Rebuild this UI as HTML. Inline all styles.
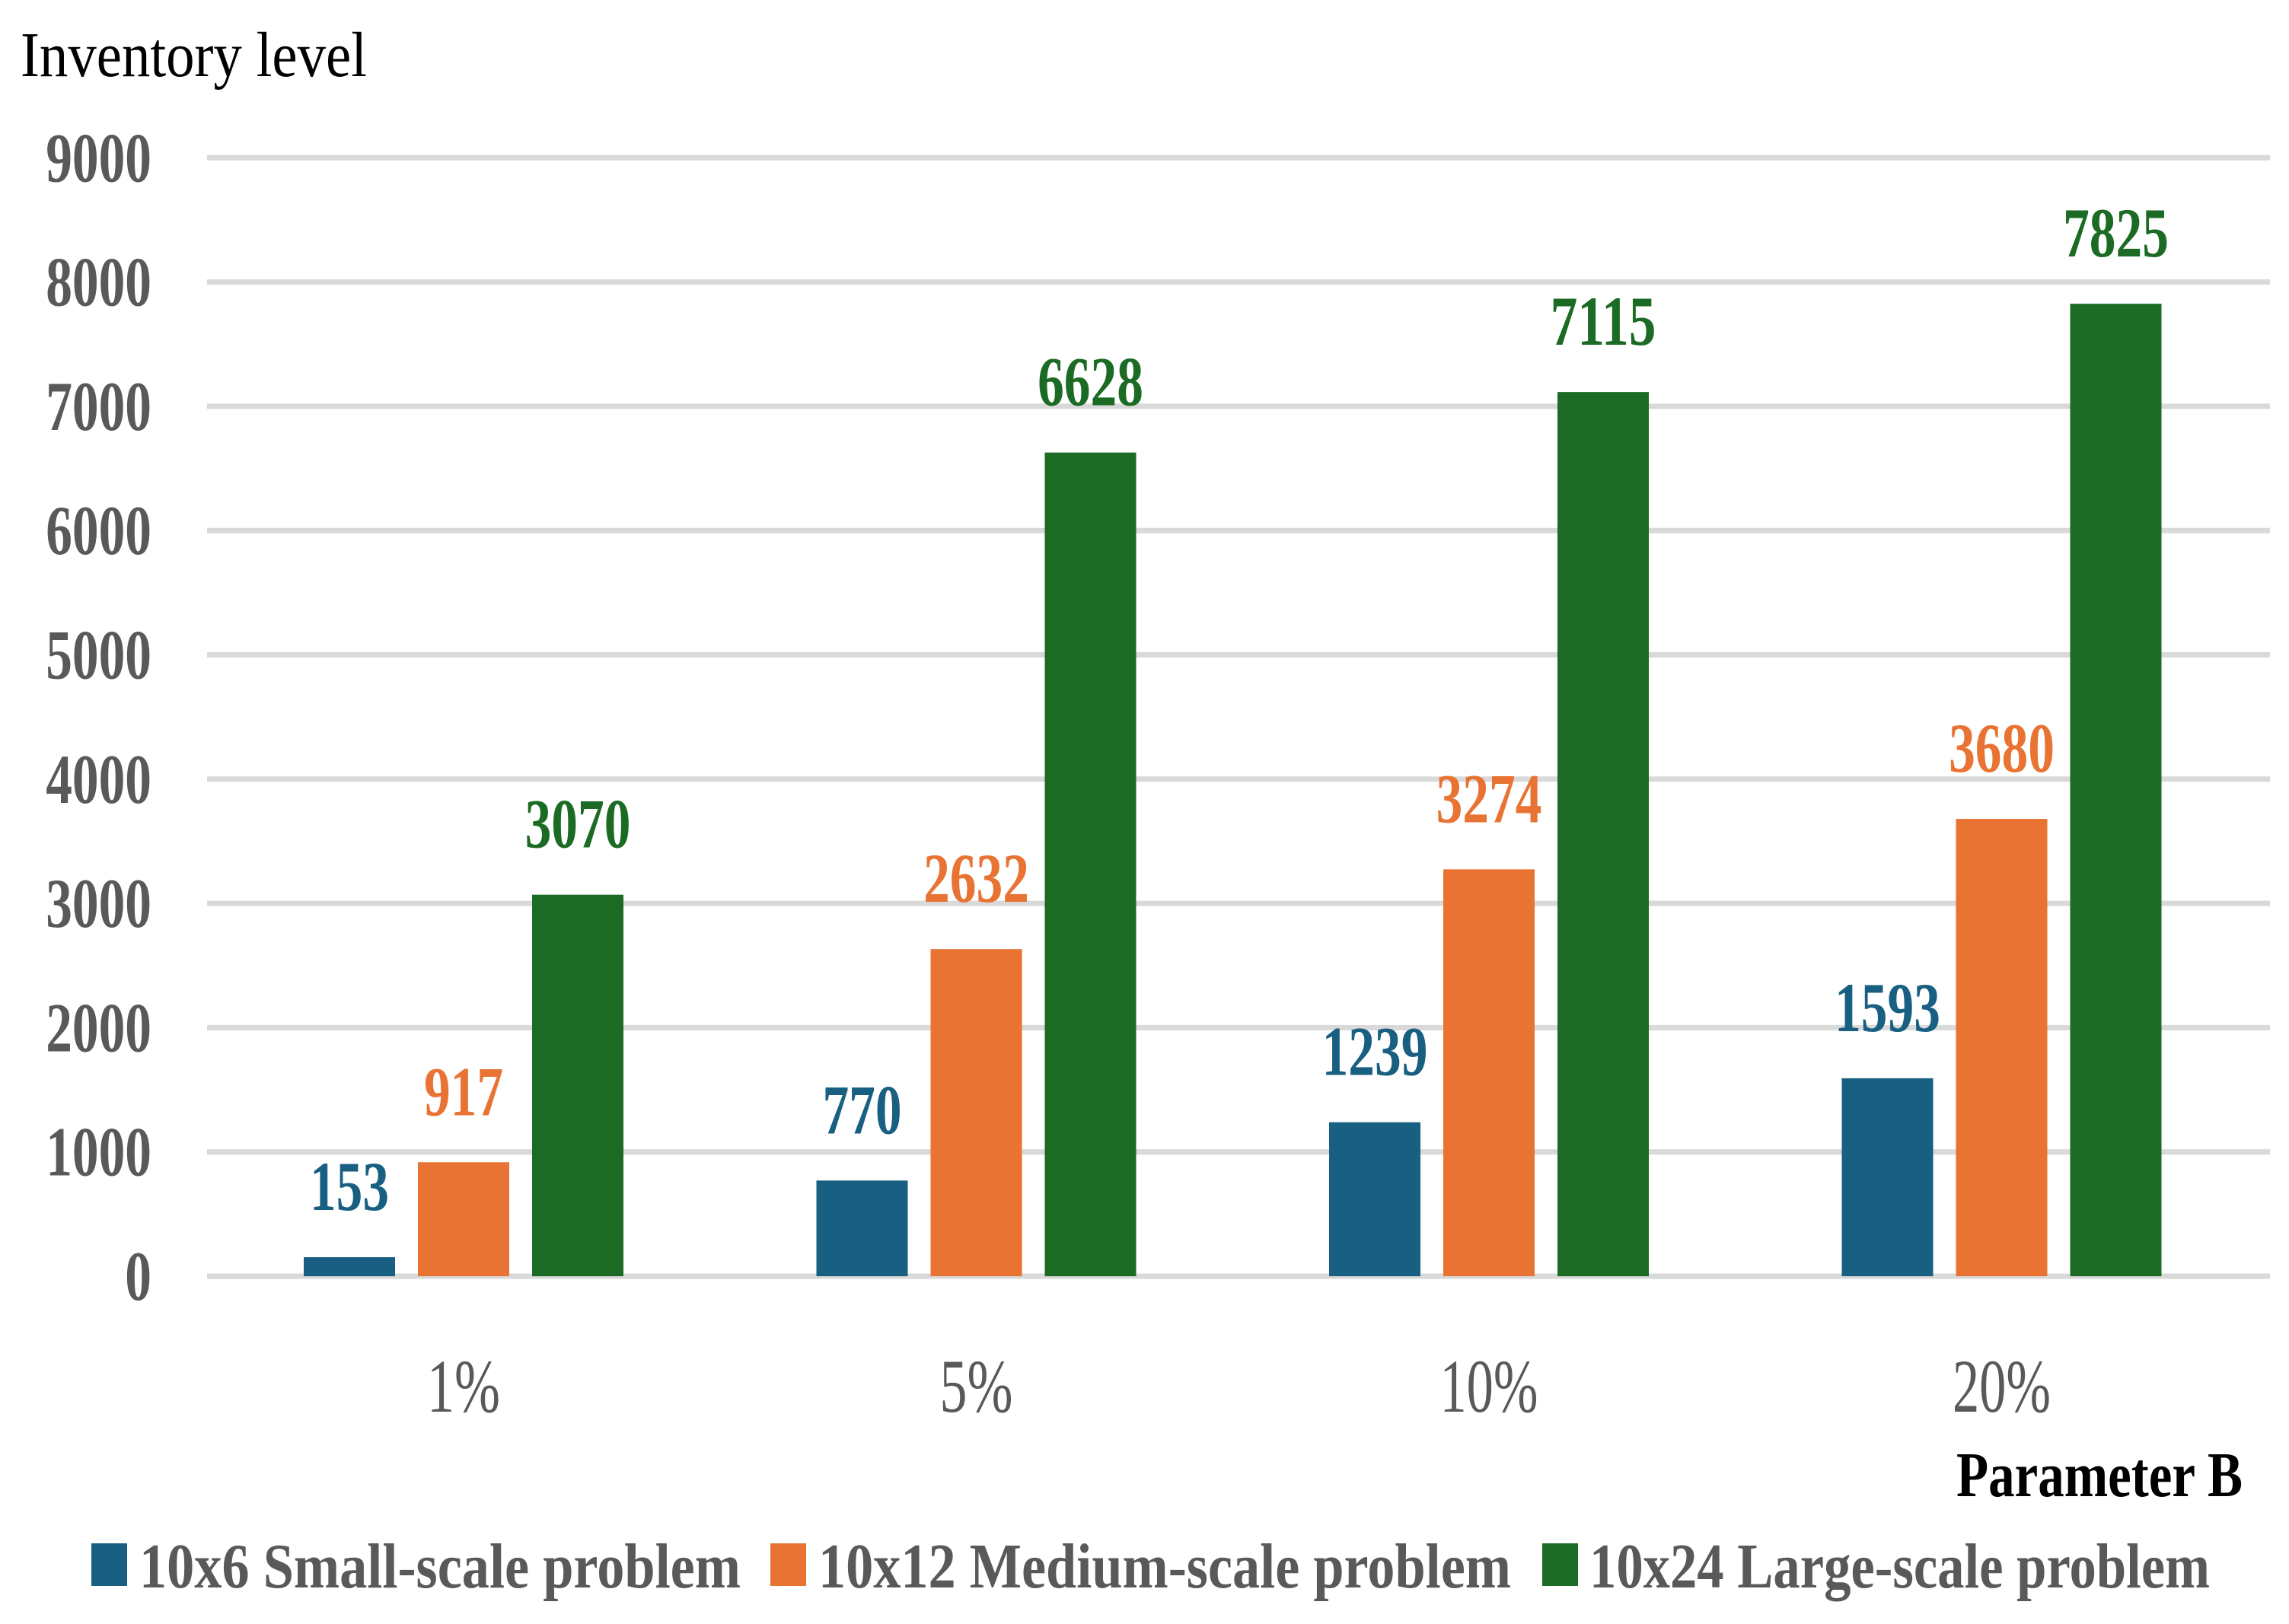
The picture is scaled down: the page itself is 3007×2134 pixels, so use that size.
<!DOCTYPE html>
<html><head><meta charset="utf-8"><style>
html,body{margin:0;padding:0;background:#fff;}
svg{display:block;}
text{font-family:"Liberation Serif",serif;}
</style></head><body>
<svg id="chart" width="3007" height="2134" viewBox="0 0 3007 2134" xmlns="http://www.w3.org/2000/svg">
<text x="27" y="100" font-size="84" fill="#000" textLength="455" lengthAdjust="spacingAndGlyphs">Inventory level</text>
<text x="2946" y="1966" font-size="84" font-weight="bold" fill="#000" text-anchor="end" textLength="376" lengthAdjust="spacingAndGlyphs">Parameter B</text>
<g id="grid"></g>
<g id="yticks"></g>
<g id="bars"></g>
<g id="labels"></g>
<g id="xticks"></g>
<g>
<rect x="120" y="2028" width="47" height="56" fill="#185f81"/>
<text x="183" y="2086" font-size="84" font-weight="bold" fill="#595959" textLength="790" lengthAdjust="spacingAndGlyphs">10x6 Small-scale problem</text>
<rect x="1012" y="2028" width="47" height="56" fill="#e87333"/>
<text x="1075" y="2086" font-size="84" font-weight="bold" fill="#595959" textLength="910" lengthAdjust="spacingAndGlyphs">10x12 Medium-scale problem</text>
<rect x="2026" y="2028" width="47" height="56" fill="#1b6b24"/>
<text x="2088" y="2086" font-size="84" font-weight="bold" fill="#595959" textLength="815" lengthAdjust="spacingAndGlyphs">10x24 Large-scale problem</text>
</g>
</svg>
<script>
const categories = ["1%", "5%", "10%", "20%"];
const smallValues = [153, 770, 1239, 1593];
const mediumValues = [917, 2632, 3274, 3680];
const largeValues = [3070, 6628, 7115, 7825];
const yTicks = [0, 1000, 2000, 3000, 4000, 5000, 6000, 7000, 8000, 9000];

const NS = "http://www.w3.org/2000/svg";
const y0 = 1677, pxPer = 163.3 / 1000;
const xLeft = 272, xRight = 2982;
const firstCenter = 609, catStep = 673.5;
const barW = 120, barStep = 150;
function yScale(v){ return y0 - v * pxPer; }
function xCenter(i){ return firstCenter + i * catStep; }
function mk(tag, attrs){ const e = document.createElementNS(NS, tag); for (const k in attrs) e.setAttribute(k, attrs[k]); return e; }
function charW(s){ let w = 0; for (const c of s) w += (c === '%') ? 31 : 34.7; return w; }
function catW(s){ let w = 0; for (const c of s) w += (c === '%') ? 63 : 33; return w; }

const grid = document.getElementById('grid');
const yt = document.getElementById('yticks');
yTicks.forEach(t => {
  const y = yScale(t);
  const l = mk('rect', {x: xLeft, y: y - 3.5, width: xRight - xLeft, height: 7, fill: '#d9d9d9'});
  
  
  grid.appendChild(l);
  const s = String(t);
  const tx = mk('text', {x: 199, y: y + 31, 'font-size': 92, 'font-weight': 'bold', fill: '#595959', 'text-anchor': 'end', textLength: charW(s), lengthAdjust: 'spacingAndGlyphs'});
  tx.textContent = s;
  
  
  yt.appendChild(tx);
});

const series = [
  {name: 'small', vals: smallValues, color: '#185f81'},
  {name: 'medium', vals: mediumValues, color: '#e87333'},
  {name: 'large', vals: largeValues, color: '#1b6b24'}
];
const bars = document.getElementById('bars');
const labels = document.getElementById('labels');
const xt = document.getElementById('xticks');
categories.forEach((c, i) => {
  const cx = xCenter(i);
  series.forEach((s, j) => {
    const bx = cx + (j - 1) * barStep - barW / 2;
    const v = s.vals[i];
    const top = yScale(v);
    const r = mk('rect', {x: bx, y: top, width: barW, height: y0 - top, fill: s.color});
    
    
    bars.appendChild(r);
    const str = String(v);
    const t = mk('text', {x: bx + barW / 2, y: top - 62, 'font-size': 92, 'font-weight': 'bold', fill: s.color, 'text-anchor': 'middle', textLength: charW(str), lengthAdjust: 'spacingAndGlyphs'});
    t.textContent = str;
    
    
    labels.appendChild(t);
  });
  const ct = mk('text', {x: cx, y: 1855, 'font-size': 100, fill: '#595959', 'text-anchor': 'middle', textLength: catW(c), lengthAdjust: 'spacingAndGlyphs'});
  ct.textContent = c;
  
  
  xt.appendChild(ct);
});
</script>
</body></html>
